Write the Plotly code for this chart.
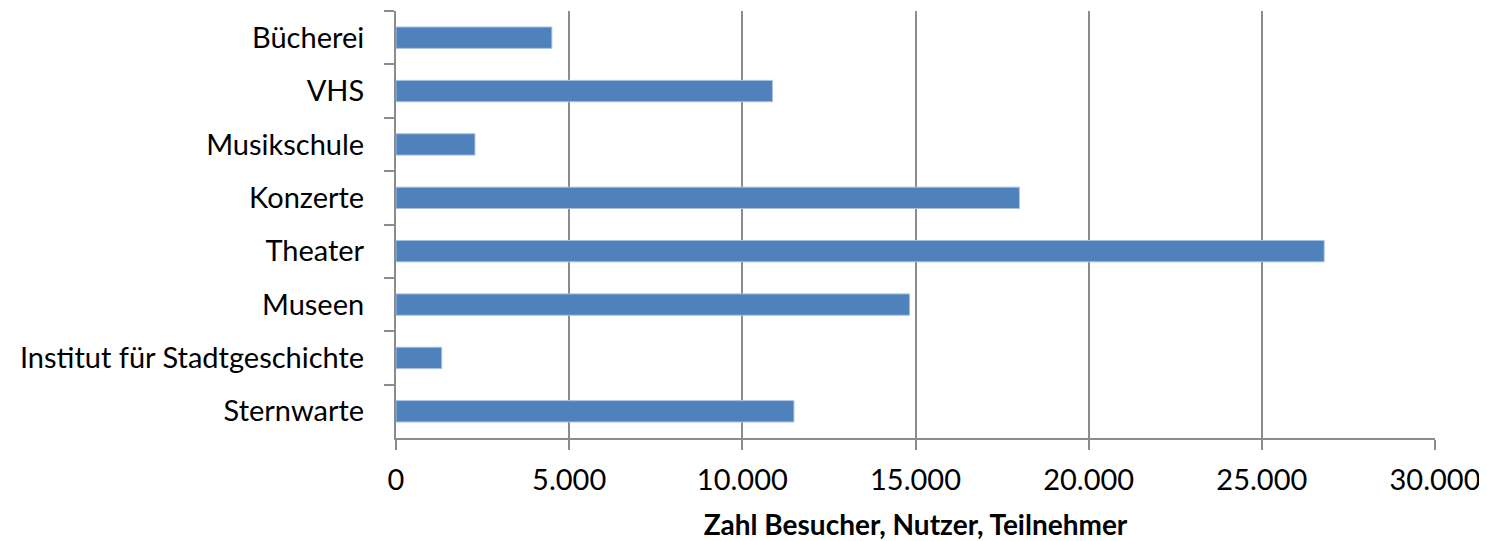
import plotly.graph_objects as go

# Besucherzahlen der Kultureinrichtungen
categories = ['Bücherei', 'VHS', 'Musikschule', 'Konzerte', 'Theater',
              'Museen', 'Institut für Stadtgeschichte', 'Sternwarte']
visitors = [4500, 10870, 2280, 18000, 26800, 14830, 1320, 11490]

x_ticks = [0, 5000, 10000, 15000, 20000, 25000, 30000]

BAR_COLOR = '#4f81bd'
GRID_COLOR = '#8c8c8c'
FONT = 'Lato, Open Sans, sans-serif'

fig = go.Figure(go.Bar(
    x=visitors,
    y=categories,
    orientation='h',
    marker=dict(color=BAR_COLOR, line=dict(color='#a9c1e0', width=1)),
    hovertemplate='<b>%{y}</b><br>%{x:,}<extra></extra>'
))

# the page body adds an 8px margin, so the figure is a little smaller than the window
fig.update_layout(
    width=1479,
    height=533,
    margin=dict(l=388, r=52, t=3, b=103),
    plot_bgcolor='white',
    paper_bgcolor='white',
    separators=',.',
    bargap=0.6,
    showlegend=False,
    font=dict(family=FONT, size=29, color='#000000'),
)

fig.update_xaxes(
    range=[0, 30000],
    tickvals=x_ticks,
    tickformat=',d',
    tickfont=dict(size=29),
    showgrid=True,
    gridcolor=GRID_COLOR,
    gridwidth=1.5,
    showline=True,
    linecolor=GRID_COLOR,
    linewidth=2,
    ticks='outside',
    ticklen=10,
    tickcolor=GRID_COLOR,
    tickwidth=1.5,
    ticklabelstandoff=5,
    zeroline=False,
    title=dict(text='<b>Zahl Besucher, Nutzer, Teilnehmer</b>',
               font=dict(size=28), standoff=22),
)

fig.update_yaxes(
    categoryorder='array',
    categoryarray=categories,
    autorange='reversed',
    showgrid=False,
    showline=True,
    linecolor=GRID_COLOR,
    linewidth=2,
    ticks='outside',
    tickson='boundaries',
    ticklen=10,
    tickcolor=GRID_COLOR,
    tickwidth=1.5,
    ticklabelstandoff=24,
)

fig.write_html("out.html")
